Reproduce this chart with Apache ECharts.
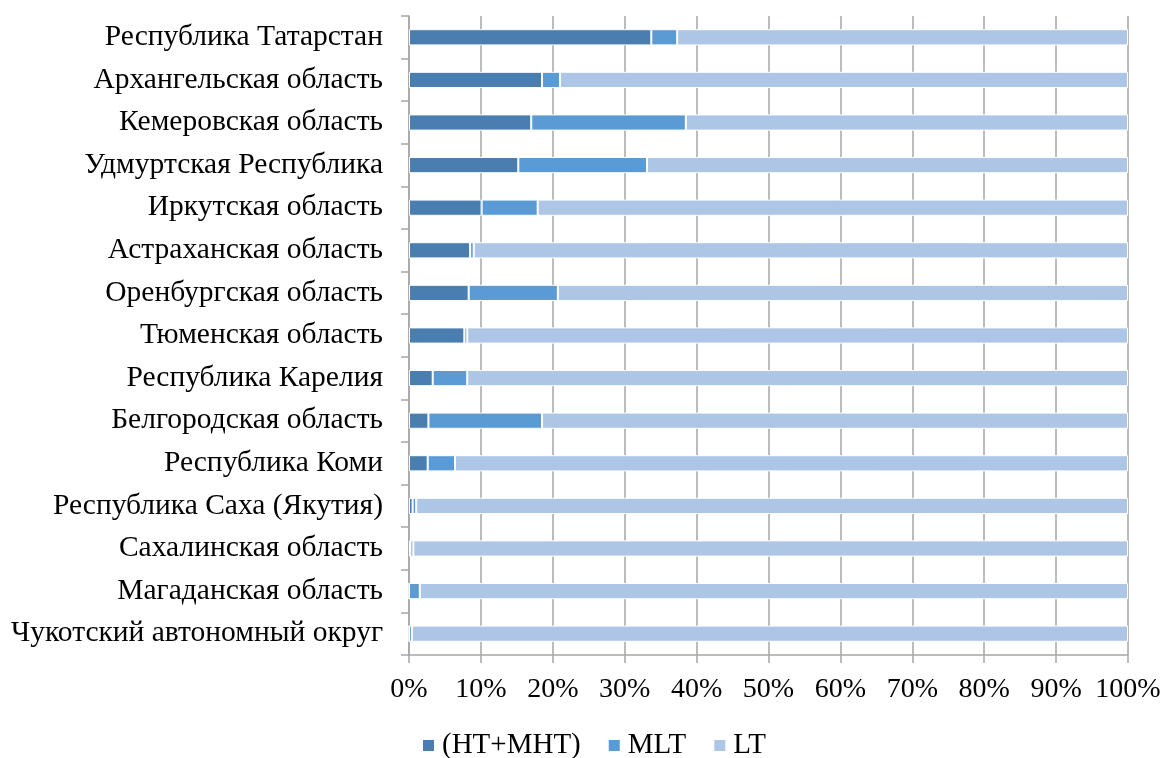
<!DOCTYPE html>
<html><head><meta charset="utf-8">
<script src="https://cdn.jsdelivr.net/npm/echarts@6/dist/echarts.min.js"></script>
<style>html,body{margin:0;padding:0;background:#fff}#c{width:1164px;height:758px}</style>
</head><body><div id="c"></div>
<script>
const categories = ["Республика Татарстан","Архангельская область","Кемеровская область","Удмуртская Республика","Иркутская область","Астраханская область","Оренбургская область","Тюменская область","Республика Карелия","Белгородская область","Республика Коми","Республика Саха (Якутия)","Сахалинская область","Магаданская область","Чукотский автономный округ"];
const htMht = [33.7,18.5,17.0,15.2,10.1,8.5,8.3,7.7,3.3,2.7,2.6,0.5,0.2,0,0];
const mlt   = [3.6,2.5,21.5,17.9,7.8,0.5,12.4,0.4,4.8,15.8,3.8,0.5,0.4,1.5,0.4];
const lt    = [62.7,79.0,61.5,66.9,82.1,91.0,79.3,91.9,91.9,81.5,93.6,99.0,99.4,98.5,99.6];
const seriesNames = ["(HT+MHT)","MLT","LT"];
const xTicks = {min:0,max:100,interval:10};

const font = "'Liberation Serif','Times New Roman',serif";
const chart = echarts.init(document.getElementById('c'));
const mk = (name, data, color) => ({
  name, type:'bar', stack:'s', data, barCategoryGap:'62%',
  itemStyle:{color, borderColor:'#fff', borderWidth:1}
});
chart.setOption({
  animation:false,
  textStyle:{fontFamily:font},
  grid:{left:409,right:36,top:16,bottom:103,containLabel:false},
  xAxis:{type:'value',min:xTicks.min,max:xTicks.max,interval:xTicks.interval,
    axisLabel:{formatter:'{value}%',color:'#000',fontSize:28,fontFamily:font,margin:21},
    axisLine:{show:true,lineStyle:{color:'#a6a6a6',width:1.5}},
    axisTick:{show:true,length:8,lineStyle:{color:'#a6a6a6',width:1.5}},
    splitLine:{show:true,lineStyle:{color:'#a6a6a6',width:1.5}}},
  yAxis:{type:'category',data:categories,inverse:true,
    axisLabel:{color:'#000',fontSize:29.5,fontFamily:font,margin:26},
    axisLine:{show:true,lineStyle:{color:'#a6a6a6',width:1.5}},
    axisTick:{show:true,length:8,lineStyle:{color:'#a6a6a6',width:1.5}}},
  legend:{top:726,left:416,icon:'rect',itemWidth:13,itemHeight:13,itemGap:26,
    textStyle:{fontSize:29,color:'#000',fontFamily:font,padding:[0,0,0,2]},data:seriesNames},
  series:[mk(seriesNames[0],htMht,'#4a7eb0'),mk(seriesNames[1],mlt,'#5b9bd5'),mk(seriesNames[2],lt,'#adc6e6')]
});
</script></body></html>
